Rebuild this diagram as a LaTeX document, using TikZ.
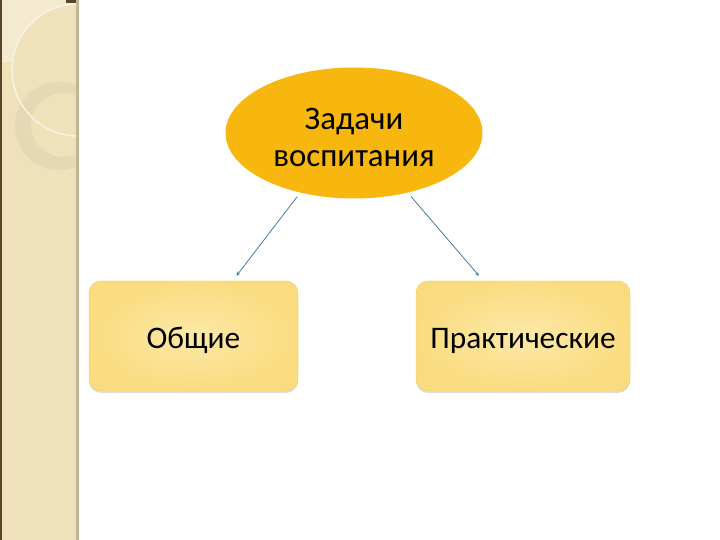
\documentclass[tikz,border=0pt]{standalone}
\usepackage{fontspec}
\setmainfont{Carlito}
\usetikzlibrary{shapes.geometric,shadows}

\definecolor{stripbase}{HTML}{EFE1BA}
\definecolor{striplight}{HTML}{F4EAD0}
\definecolor{stripring}{HTML}{E5D8B4}
\definecolor{stripedge}{HTML}{C4B394}
\definecolor{stripdark}{HTML}{5A4529}
\definecolor{goal}{HTML}{F8B70F}
\definecolor{boxin}{HTML}{FCE9A8}
\definecolor{boxout}{HTML}{FADC80}
\definecolor{boxline}{HTML}{F2C85C}
\definecolor{link}{HTML}{3F7D9E}

\tikzset{
	goal/.style={ellipse, fill=goal, minimum width=257bp, minimum height=131bp, inner sep=0pt, align=center, font=\fontsize{33}{37}\selectfont},
	kind/.style={rectangle, rounded corners=12bp, draw=boxline, inner color=boxin, outer color=boxout, minimum height=110bp, text height=25bp, text depth=0pt, font=\fontsize{31.5}{34}\selectfont, drop shadow={shadow xshift=0bp, shadow yshift=-2bp, opacity=.25}},
	link/.style={->, >=stealth, draw=link, line width=0.8bp}
}

\begin{document}
\begin{tikzpicture}[x=1bp, y=-1bp]
	\useasboundingbox (0,0) rectangle (720,540);

	% side strip
	\fill[stripbase] (0,0) rectangle (78,540);
	\begin{scope}
		\clip (0,0) rectangle (77,540);
		\fill[striplight] (0,0) rectangle (78,62);
		\fill[stripbase] (78,70) circle (66);
		\fill[stripring, even odd rule] (59,126) circle (44) (63,125) circle (32);
		\draw[striplight!60!white, line width=1.5bp] (78,70) circle (66);
	\end{scope}
	\fill[stripdark] (0,0) rectangle (2,540);
	\fill[stripdark] (66,0) rectangle (78,3);
	\fill[stripedge] (76,0) rectangle (78.5,540);

	\node at (354,133) [goal] (e) {\rule{0pt}{30bp}Задачи\\воспитания};
	\node at (193.5,336) [kind, minimum width=209bp] (o) {Общие};
	\node at (523,336) [kind, minimum width=214bp] (p) {Практические};

	\draw [link, shorten <=5bp] (e.228) -- ([xshift=43bp, yshift=5bp]o.north);
	\draw [link, shorten <=5bp] (e.312) -- ([xshift=-44bp, yshift=5bp]p.north);
\end{tikzpicture}
\end{document}
